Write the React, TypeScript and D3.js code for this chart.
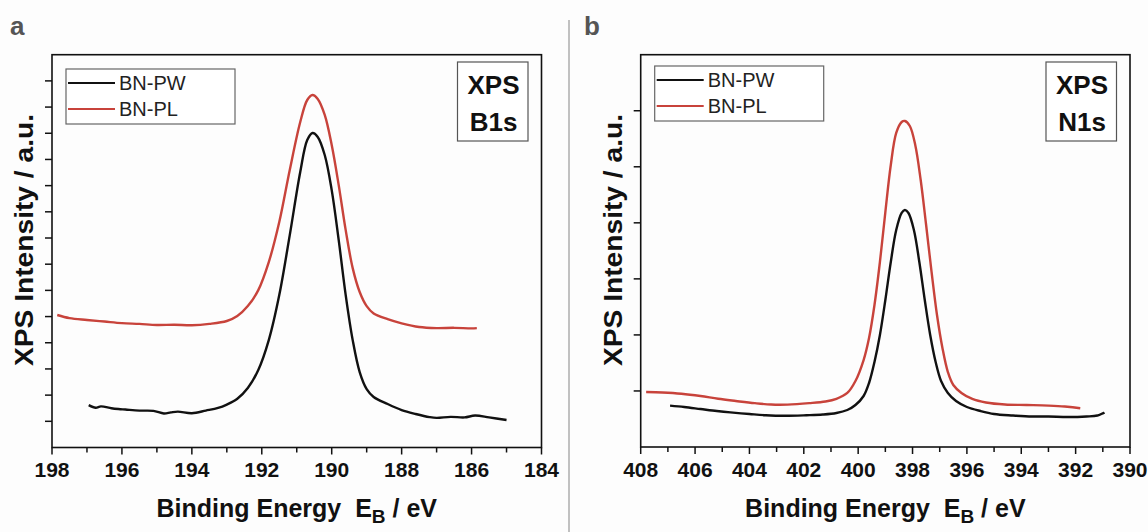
import { useEffect, useRef } from "react";
import * as d3 from "d3";

// B1s spectra, [binding energy eV, intensity a.u.]
const pwB1s: [number, number][] = [
  [196.95, 1.62], [196.75, 1.52], [196.6, 1.57], [196.3, 1.5], [196.1, 1.47], [195.9, 1.45],
  [195.5, 1.41], [195.1, 1.4], [194.8, 1.3], [194.6, 1.34], [194.4, 1.37], [194.0, 1.31],
  [193.6, 1.41], [193.25, 1.51], [193.0, 1.64], [192.7, 1.86], [192.4, 2.27], [192.1, 2.96],
  [191.8, 4.1], [191.5, 5.82], [191.2, 8.11], [190.9, 10.52], [190.7, 11.74], [190.55, 12.01],
  [190.4, 11.86], [190.2, 11.17], [190.0, 9.83], [189.8, 7.92], [189.6, 5.82], [189.4, 4.1],
  [189.2, 2.88], [189.0, 2.23], [188.8, 1.93], [188.4, 1.66], [188.0, 1.43], [187.6, 1.28],
  [187.2, 1.16], [187.0, 1.13], [186.6, 1.17], [186.2, 1.15], [185.9, 1.22], [185.5, 1.15],
  [185.0, 1.05],
];
const plB1s: [number, number][] = [
  [197.85, 5.06], [197.5, 4.94], [197.0, 4.87], [196.5, 4.81], [196.0, 4.75], [195.5, 4.72],
  [195.0, 4.68], [194.5, 4.69], [194.0, 4.67], [193.5, 4.72], [193.0, 4.83], [192.7, 5.02],
  [192.4, 5.4], [192.1, 6.01], [191.8, 7.08], [191.5, 8.61], [191.2, 10.6], [190.9, 12.43],
  [190.7, 13.27], [190.55, 13.46], [190.4, 13.31], [190.2, 12.7], [190.0, 11.55], [189.8, 10.02],
  [189.6, 8.3], [189.4, 6.85], [189.2, 5.94], [189.0, 5.4], [188.8, 5.12], [188.4, 4.9],
  [188.0, 4.74], [187.5, 4.6], [187.0, 4.56], [186.5, 4.57], [186.0, 4.55], [185.85, 4.56],
];

// N1s spectra
const pwN1s: [number, number][] = [
  [406.92, 0.739], [406.4, 0.714], [405.8, 0.678], [405.2, 0.642], [404.7, 0.617], [404.0, 0.589],
  [403.4, 0.567], [402.7, 0.557], [401.9, 0.567], [401.3, 0.58], [400.8, 0.607], [400.4, 0.66],
  [400.1, 0.749], [399.8, 0.91], [399.6, 1.142], [399.4, 1.517], [399.2, 1.999], [399.0, 2.623],
  [398.8, 3.301], [398.6, 3.872], [398.4, 4.176], [398.28, 4.229], [398.15, 4.176], [397.95, 3.872],
  [397.75, 3.301], [397.55, 2.623], [397.35, 1.999], [397.15, 1.517], [396.95, 1.178], [396.7, 0.964],
  [396.4, 0.821], [396.0, 0.714], [395.5, 0.642], [395.0, 0.589], [394.3, 0.562], [393.6, 0.544],
  [393.0, 0.544], [392.3, 0.535], [391.6, 0.544], [391.2, 0.562], [390.94, 0.616],
];
const plN1s: [number, number][] = [
  [407.8, 0.981], [407.2, 0.973], [406.5, 0.951], [405.8, 0.91], [405.15, 0.86], [404.5, 0.821],
  [403.8, 0.782], [403.2, 0.758], [402.6, 0.757], [401.8, 0.782], [401.2, 0.812], [400.8, 0.86],
  [400.4, 0.964], [400.1, 1.178], [399.8, 1.552], [399.6, 1.945], [399.4, 2.534], [399.2, 3.301],
  [399.0, 4.193], [398.8, 5.032], [398.6, 5.603], [398.4, 5.799], [398.28, 5.817], [398.1, 5.728],
  [397.9, 5.389], [397.7, 4.764], [397.5, 3.961], [397.3, 3.123], [397.1, 2.355], [396.9, 1.767],
  [396.7, 1.338], [396.5, 1.106], [396.2, 0.964], [395.8, 0.857], [395.3, 0.794], [394.6, 0.758],
  [393.8, 0.749], [393.0, 0.739], [392.4, 0.723], [391.83, 0.691],
];

const seriesNames = ["BN-PW", "BN-PL"];
const seriesColors = ["#111111", "#c8433b"];

const FONT = "'Liberation Sans', Arial, Helvetica, sans-serif";

type Panel = {
  letter: string;
  level: string;
  xDomain: [number, number];
  yDomain: [number, number];
  box: { left: number; right: number; top: number; bottom: number };
  pw: [number, number][];
  pl: [number, number][];
  legendTop: number;
};

const panels: Panel[] = [
  {
    letter: "a",
    level: "B1s",
    xDomain: [198, 184],
    yDomain: [0, 15],
    box: { left: 52, right: 541.5, top: 54.7, bottom: 447.5 },
    pw: pwB1s,
    pl: plB1s,
    legendTop: 69,
  },
  {
    letter: "b",
    level: "N1s",
    xDomain: [408, 390],
    yDomain: [0, 7],
    box: { left: 640.7, right: 1130, top: 54.7, bottom: 447 },
    pw: pwN1s,
    pl: plN1s,
    legendTop: 66,
  },
];

function drawPanel(svg: d3.Selection<SVGSVGElement, unknown, null, undefined>, p: Panel) {
  const { left, right, top, bottom } = p.box;
  const x = d3.scaleLinear().domain(p.xDomain).range([left, right]);
  const y = d3.scaleLinear().domain(p.yDomain).range([bottom, top]);
  const g = svg.append("g");

  // x ticks: minor every 1 eV, labels every 2 eV
  const xTicks = d3.range(p.xDomain[1], p.xDomain[0] + 0.5, 1);
  xTicks.forEach((t) => {
    const major = (t - p.xDomain[1]) % 2 === 0;
    g.append("line")
      .attr("x1", x(t)).attr("x2", x(t))
      .attr("y1", bottom).attr("y2", bottom + (major ? 7 : 5))
      .attr("stroke", "#111").attr("stroke-width", 1.5);
    if (major) {
      g.append("text")
        .attr("x", x(t)).attr("y", 477)
        .attr("text-anchor", "middle")
        .attr("font-family", FONT).attr("font-weight", "bold").attr("font-size", 21)
        .attr("fill", "#111")
        .text(String(t));
    }
  });

  // y ticks without labels
  d3.range(p.yDomain[0] + 1, p.yDomain[1], 1).forEach((t) => {
    g.append("line")
      .attr("x1", left - 7).attr("x2", left)
      .attr("y1", y(t)).attr("y2", y(t))
      .attr("stroke", "#111").attr("stroke-width", 1.5);
  });

  // frame
  g.append("rect")
    .attr("x", left).attr("y", top)
    .attr("width", right - left).attr("height", bottom - top)
    .attr("fill", "none").attr("stroke", "#111").attr("stroke-width", 1.6);

  const line = d3
    .line<[number, number]>()
    .x((d) => x(d[0]))
    .y((d) => y(d[1]))
    .curve(d3.curveCatmullRom.alpha(0.5));

  [p.pw, p.pl].forEach((data, i) => {
    g.append("path")
      .attr("d", line(data))
      .attr("fill", "none")
      .attr("stroke", seriesColors[i])
      .attr("stroke-width", 2.4)
      .attr("stroke-linejoin", "round");
  });

  // legend
  const lx = left + 14;
  const lt = p.legendTop;
  g.append("rect")
    .attr("x", lx).attr("y", lt)
    .attr("width", 169).attr("height", 55)
    .attr("fill", "#fff").attr("stroke", "#666").attr("stroke-width", 1.2);
  seriesNames.forEach((name, i) => {
    const yy = lt + 14 + i * 26;
    g.append("line")
      .attr("x1", lx + 2).attr("x2", lx + 49)
      .attr("y1", yy).attr("y2", yy)
      .attr("stroke", seriesColors[i]).attr("stroke-width", 2.2);
    g.append("text")
      .attr("x", lx + 53).attr("y", yy + 7)
      .attr("font-family", FONT).attr("font-size", 20)
      .attr("fill", "#222")
      .text(name);
  });

  // XPS label box
  const bx = right - 84;
  g.append("rect")
    .attr("x", bx).attr("y", 62)
    .attr("width", 70.5).attr("height", 79)
    .attr("fill", "#fff").attr("stroke", "#555").attr("stroke-width", 1.2);
  ["XPS", p.level].forEach((s, i) => {
    g.append("text")
      .attr("x", bx + 36).attr("y", 94 + i * 37)
      .attr("text-anchor", "middle")
      .attr("font-family", FONT).attr("font-weight", "bold").attr("font-size", 26)
      .attr("fill", "#111")
      .text(s);
  });

  // y title
  g.append("text")
    .attr("transform", `translate(${left - 19},240) rotate(-90)`)
    .attr("text-anchor", "middle")
    .attr("font-family", FONT).attr("font-weight", "bold").attr("font-size", 26)
    .attr("textLength", 252).attr("lengthAdjust", "spacingAndGlyphs")
    .attr("fill", "#111")
    .text("XPS Intensity / a.u.");

  // x title with subscript
  const xt = g.append("text")
    .attr("x", (left + right) / 2).attr("y", 517)
    .attr("text-anchor", "middle")
    .attr("font-family", FONT).attr("font-weight", "bold").attr("font-size", 25)
    .attr("fill", "#111")
    .style("white-space", "pre");
  xt.append("tspan").text("Binding Energy  E");
  xt.append("tspan").attr("font-size", 19).attr("dy", 6).text("B");
  xt.append("tspan").attr("dy", -6).text(" / eV");

  // panel letter
  svg.append("text")
    .attr("x", p.letter === "a" ? 10 : 584).attr("y", 35)
    .attr("font-family", FONT).attr("font-weight", "bold").attr("font-size", 26)
    .attr("fill", "#555")
    .text(p.letter);
}

export default function App() {
  const ref = useRef<SVGSVGElement | null>(null);

  useEffect(() => {
    if (!ref.current) return;
    const svg = d3.select(ref.current);
    svg.selectAll("*").remove();

    svg.append("rect").attr("width", 1148).attr("height", 532).attr("fill", "#fdfdfd");

    // divider between panels
    svg.append("line")
      .attr("x1", 569).attr("x2", 569)
      .attr("y1", 20).attr("y2", 532)
      .attr("stroke", "#999").attr("stroke-width", 1.2);

    panels.forEach((p) => drawPanel(svg, p));
  }, []);

  return (
    <svg
      ref={ref}
      width={1148}
      height={532}
      style={{ position: "absolute", left: 0, top: 0 }}
    />
  );
}
